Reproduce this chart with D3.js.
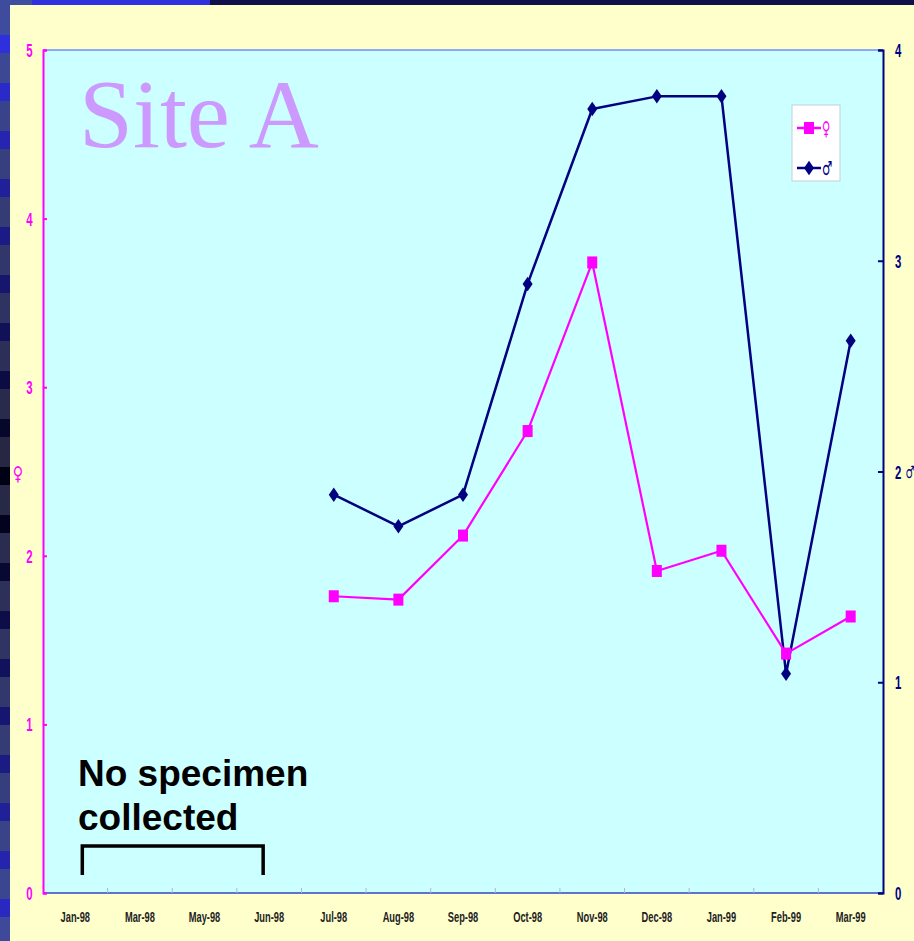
<!DOCTYPE html>
<html>
<head>
<meta charset="utf-8">
<script src="https://cdn.jsdelivr.net/npm/d3@7"></script>
<style>
  html, body { margin: 0; padding: 0; background: #ffffcc; }
  svg { display: block; }
</style>
</head>
<body>
<svg id="chart" width="914" height="941"></svg>
<script>
// Monthly sampling at Site A
const months = ["Jan-98", "Mar-98", "May-98", "Jun-98", "Jul-98", "Aug-98", "Sep-98",
                "Oct-98", "Nov-98", "Dec-98", "Jan-99", "Feb-99", "Mar-99"];
// Female counts (left axis); null = no specimen collected
const femaleValues = [null, null, null, null, 1.76, 1.74, 2.12, 2.74, 3.74, 1.91, 2.03, 1.42, 1.64];
// Male counts (right axis)
const maleValues = [null, null, null, null, 1.89, 1.74, 1.89, 2.89, 3.72, 3.78, 3.78, 1.04, 2.62];
const leftTicks = [0, 1, 2, 3, 4, 5];
const rightTicks = [0, 1, 2, 3, 4];

const W = 914, H = 941;
const plot = { left: 43, right: 883, top: 50, bottom: 893 };
const FEMALE = "#ff00ff", MALE = "#000080";
const SANS = "'Liberation Sans', Arial, sans-serif";
const SYMBOL_FONT = "'DejaVu Sans', sans-serif";

const svg = d3.select("#chart");

// Condensed bold label: regular bold sans squeezed horizontally
function narrowText(parent, x, y, text, size, fill, anchor = "middle", squeeze = 0.6, family = SANS) {
  return parent.append("text")
    .attr("transform", `translate(${x},${y}) scale(${squeeze},1)`)
    .attr("font-family", family).attr("font-weight", "bold")
    .attr("font-size", size).attr("fill", fill)
    .attr("text-anchor", anchor)
    .text(text);
}

// ---- slide background: cream panel, top band, left edge squares ----
svg.append("rect").attr("x", 0).attr("y", 0).attr("width", W).attr("height", H).attr("fill", "#ffffcc");
svg.append("rect").attr("x", 0).attr("y", 0).attr("width", W).attr("height", 5).attr("fill", "#0f0f4a");
svg.append("rect").attr("x", 0).attr("y", 0).attr("width", 32).attr("height", 5).attr("fill", "#3f4f9f");
svg.append("rect").attr("x", 32).attr("y", 0).attr("width", 178).attr("height", 5).attr("fill", "#3030e0");

const edge = svg.append("g");
const shade = d3.scaleLinear().domain([0, 450, 941]).range([0, 1, 0]).clamp(true);
const slateCol = d3.interpolateRgb("#3f4c9e", "#262640");
const accentCol = d3.interpolateRgb("#3030e0", "#000010");
edge.append("rect").attr("x", 0).attr("y", 0).attr("width", 10).attr("height", H).attr("fill", "#3f4c9e");
for (let y = 5; y < H; y += 48) {
  const t = shade(y);
  edge.append("rect").attr("x", 0).attr("y", y).attr("width", 10).attr("height", 30).attr("fill", slateCol(t));
  edge.append("rect").attr("x", 0).attr("y", y + 30).attr("width", 10).attr("height", 18).attr("fill", accentCol(t));
}

// ---- scales ----
const x = d3.scaleBand().domain(months).range([plot.left, plot.right]).padding(0);
const cx = d => x(d) + x.bandwidth() / 2;
const yL = d3.scaleLinear().domain([0, 5]).range([plot.bottom, plot.top]);
const yR = d3.scaleLinear().domain([0, 4]).range([plot.bottom, plot.top]);

// ---- plot area ----
svg.append("rect")
  .attr("x", plot.left).attr("y", plot.top)
  .attr("width", plot.right - plot.left).attr("height", plot.bottom - plot.top)
  .attr("fill", "#ccffff");
svg.append("line")
  .attr("x1", plot.left).attr("x2", plot.right).attr("y1", plot.top).attr("y2", plot.top)
  .attr("stroke", "#6f8cff").attr("stroke-width", 1.5);

// Title inside the plot
svg.append("text")
  .attr("x", 79).attr("y", 147)
  .attr("font-family", "'Liberation Serif', 'Times New Roman', serif")
  .attr("font-size", 97).attr("fill", "#cc99ff")
  .text("Site A");

// Note about missing months
const note = svg.append("text")
  .attr("font-family", SANS)
  .attr("font-weight", "bold").attr("font-size", 37).attr("fill", "#000");
note.append("tspan").attr("x", 78).attr("y", 786).text("No specimen");
note.append("tspan").attr("x", 78).attr("y", 830).text("collected");

// Bracket spanning the uncollected months
svg.append("path")
  .attr("d", d3.line()([[cx("Jan-98") + 7, 875], [cx("Jan-98") + 7, 846], [cx("Jun-98") - 6, 846], [cx("Jun-98") - 6, 875]]))
  .attr("fill", "none").attr("stroke", "#000").attr("stroke-width", 3.5);

// ---- x axis ----
const xAxis = svg.append("g");
xAxis.append("line")
  .attr("x1", plot.left).attr("x2", plot.right).attr("y1", plot.bottom).attr("y2", plot.bottom)
  .attr("stroke", "#3344cc").attr("stroke-width", 1.5);
xAxis.selectAll("line.tick")
  .data(months.slice(1))
  .join("line").attr("class", "tick")
  .attr("x1", d => x(d)).attr("x2", d => x(d)).attr("y1", plot.bottom).attr("y2", plot.bottom - 5)
  .attr("stroke", "#b0b8c0").attr("stroke-width", 1);
months.forEach(m => narrowText(xAxis, cx(m), 922, m, 15, "#222", "middle", 0.62));

// ---- left axis (female) ----
const left = svg.append("g").attr("transform", `translate(${plot.left},0)`)
  .call(d3.axisLeft(yL).tickValues(leftTicks).tickSize(-4).tickFormat(""));
left.select(".domain").attr("stroke", FEMALE).attr("stroke-width", 2);
left.selectAll(".tick line").attr("stroke", FEMALE).attr("stroke-width", 2);
const leftLabels = svg.append("g");
leftTicks.forEach(v => narrowText(leftLabels, 29.5, yL(v) + 7, d3.format("d")(v), 19, FEMALE, "middle", 0.6));
narrowText(svg, 18, yL(2.5) + 8, "♀", 19, FEMALE, "middle", 0.75, SYMBOL_FONT);

// ---- right axis (male) ----
const right = svg.append("g").attr("transform", `translate(${plot.right},0)`)
  .call(d3.axisRight(yR).tickValues(rightTicks).tickSize(-5).tickFormat(""));
right.select(".domain").attr("stroke", MALE).attr("stroke-width", 2);
right.selectAll(".tick line").attr("stroke", MALE).attr("stroke-width", 2);
const rightLabels = svg.append("g");
rightTicks.forEach(v => narrowText(rightLabels, 895, yR(v) + 7, d3.format("d")(v), 19, MALE, "start", 0.6));
narrowText(svg, 905.5, yR(2) + 6, "♂", 17, MALE, "start", 0.6, SYMBOL_FONT);

// ---- series ----
const femalePts = months.map((m, i) => ({ m, v: femaleValues[i] })).filter(d => d.v != null);
const malePts = months.map((m, i) => ({ m, v: maleValues[i] })).filter(d => d.v != null);

svg.append("path").datum(malePts)
  .attr("d", d3.line().x(d => cx(d.m)).y(d => yR(d.v)))
  .attr("fill", "none").attr("stroke", MALE).attr("stroke-width", 2.5).attr("stroke-linejoin", "round");

svg.append("path").datum(femalePts)
  .attr("d", d3.line().x(d => cx(d.m)).y(d => yL(d.v)))
  .attr("fill", "none").attr("stroke", FEMALE).attr("stroke-width", 2.2).attr("stroke-linejoin", "round");

// Tall diamond marker for males
const tallDiamond = {
  draw(ctx, size) {
    const r = Math.sqrt(size) / 2;
    ctx.moveTo(0, -r * 1.45);
    ctx.lineTo(r, 0);
    ctx.lineTo(0, r * 1.45);
    ctx.lineTo(-r, 0);
    ctx.closePath();
  }
};
const diamond = d3.symbol().type(tallDiamond).size(100);

svg.append("g").selectAll("path")
  .data(malePts)
  .join("path")
  .attr("transform", d => `translate(${cx(d.m)},${yR(d.v)})`)
  .attr("d", diamond).attr("fill", MALE);

svg.append("g").selectAll("rect")
  .data(femalePts)
  .join("rect")
  .attr("x", d => cx(d.m) - 5).attr("y", d => yL(d.v) - 6)
  .attr("width", 10).attr("height", 12).attr("fill", FEMALE);

// ---- legend ----
const legend = svg.append("g").attr("transform", "translate(792,105)");
legend.append("rect").attr("width", 48).attr("height", 76)
  .attr("fill", "#ffffff").attr("stroke", "#c0d0d8").attr("stroke-width", 1);
const entries = [
  { sym: "♀", color: FEMALE, marker: "square", y: 23 },
  { sym: "♂", color: MALE, marker: "diamond", y: 63 }
];
entries.forEach(e => {
  legend.append("line").attr("x1", 5).attr("x2", 29).attr("y1", e.y).attr("y2", e.y)
    .attr("stroke", e.color).attr("stroke-width", 2.5);
  if (e.marker === "square") {
    legend.append("rect").attr("x", 12).attr("y", e.y - 6).attr("width", 10).attr("height", 12).attr("fill", e.color);
  } else {
    legend.append("path").attr("transform", `translate(17,${e.y})`).attr("d", diamond).attr("fill", e.color);
  }
  narrowText(legend, 30, e.y + 7, e.sym, 19, e.color, "start", 0.6, SYMBOL_FONT);
});
</script>
</body>
</html>
